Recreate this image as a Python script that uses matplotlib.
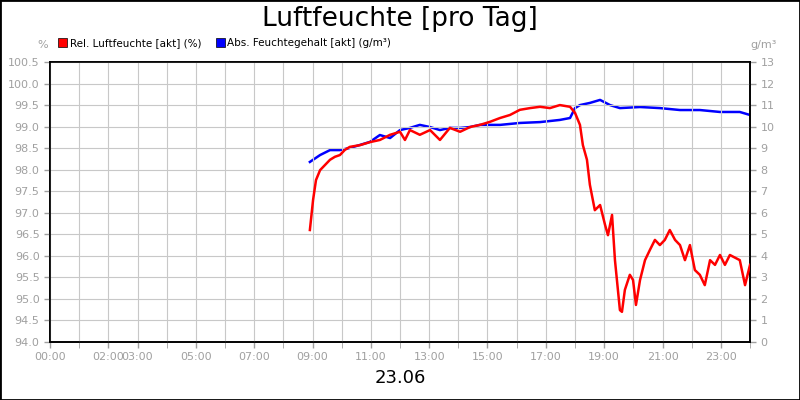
import matplotlib
matplotlib.use("Agg")
import matplotlib.pyplot as plt
from matplotlib.patches import Rectangle

# Rel. Luftfeuchte (%), hours of day
rel_h = [8.91, 9.02, 9.12, 9.26, 9.43, 9.60, 9.77, 9.94, 10.11, 10.28, 10.63, 10.97, 11.31, 11.66,
         12.0, 12.17, 12.34, 12.68, 13.03, 13.37, 13.71, 14.06, 14.40, 14.74, 15.08, 15.43, 15.77,
         16.11, 16.46, 16.80, 17.14, 17.48, 17.83, 18.0, 18.17, 18.27, 18.41, 18.51, 18.68, 18.86,
         19.03, 19.13, 19.27, 19.37, 19.54, 19.61, 19.71, 19.88, 19.99, 20.09, 20.23, 20.40, 20.57,
         20.74, 20.91, 21.08, 21.25, 21.43, 21.60, 21.77, 21.94, 22.11, 22.28, 22.45, 22.63, 22.80,
         22.97, 23.14, 23.31, 23.65, 23.83, 24.0]
rel_v = [96.60, 97.30, 97.76, 97.99, 98.11, 98.23, 98.30, 98.34, 98.46, 98.53, 98.57, 98.64, 98.69, 98.81,
         98.88, 98.69, 98.92, 98.81, 98.92, 98.69, 98.97, 98.88, 98.99, 99.04, 99.11, 99.20, 99.27,
         99.39, 99.43, 99.46, 99.43, 99.50, 99.46, 99.32, 99.04, 98.57, 98.23, 97.65, 97.06, 97.18,
         96.72, 96.48, 96.95, 95.90, 94.74, 94.70, 95.21, 95.56, 95.44, 94.86, 95.44, 95.90, 96.14,
         96.37, 96.25, 96.37, 96.60, 96.37, 96.25, 95.90, 96.25, 95.67, 95.56, 95.32, 95.90, 95.79,
         96.02, 95.79, 96.02, 95.90, 95.32, 95.79]

# Abs. Feuchtegehalt (g/m³)
abs_h = [8.91, 9.26, 9.60, 9.94, 10.28, 10.63, 10.97, 11.31, 11.66, 12.0, 12.34, 12.68, 13.03, 13.37,
         13.71, 14.06, 14.40, 14.74, 15.08, 15.43, 16.11, 16.80, 17.48, 17.83, 18.0, 18.17, 18.51,
         18.86, 19.20, 19.54, 20.23, 20.91, 21.60, 22.28, 22.97, 23.65, 24.0]
abs_v = [8.36, 8.68, 8.91, 8.91, 9.01, 9.15, 9.29, 9.61, 9.47, 9.84, 9.94, 10.08, 9.98, 9.84,
         9.94, 9.94, 9.98, 10.08, 10.08, 10.08, 10.17, 10.21, 10.31, 10.40, 10.86, 11.0, 11.10,
         11.24, 11.0, 10.86, 10.91, 10.86, 10.77, 10.77, 10.68, 10.68, 10.54]

tick_h = [0, 2, 3, 5, 7, 9, 11, 13, 15, 17, 19, 21, 23]
tick_lbl = ["%02d:00" % h for h in tick_h]

fig = plt.figure(figsize=(8, 4), dpi=100)
fig.patches.append(Rectangle((0, 0), 1, 1, transform=fig.transFigure, fill=False,
                             edgecolor="black", linewidth=2))
ax = fig.add_axes([0.0625, 0.145, 0.875, 0.7])
ax2 = ax.twinx()

gc = "#c8c8c8"
ax.set_xlim(0, 24)
ax.set_ylim(94.0, 100.5)
ax2.set_ylim(0, 13)
ax.set_xticks(range(25), minor=True)
ax.set_xticks(tick_h)
ax.set_xticklabels(tick_lbl)
ax.set_yticks([94 + 0.5 * i for i in range(14)])
ax.set_yticklabels(["%.1f" % (94 + 0.5 * i) for i in range(14)])
ax2.set_yticks(range(14))
ax.grid(True, which="both", axis="x", color=gc, linewidth=0.8)
ax.grid(True, axis="y", color=gc, linewidth=0.8)
for a in (ax, ax2):
    a.tick_params(colors="#a0a0a0", labelsize=8, length=4, width=1)
    a.tick_params(which="minor", colors="#a0a0a0", length=4)
    for s in a.spines.values():
        s.set_color("black")
        s.set_linewidth(1.2)

ax.plot(rel_h, rel_v, color="#ff0000", linewidth=1.8, zorder=3)
ax2.plot(abs_h, abs_v, color="#0000ff", linewidth=1.8, zorder=2)
ax.set_zorder(ax2.get_zorder() + 1)
ax.patch.set_visible(False)

fig.text(0.5, 0.952, "Luftfeuchte [pro Tag]", ha="center", va="center", fontsize=19)
fig.text(0.5, 0.055, "23.06", ha="center", va="center", fontsize=13)
fig.text(0.053, 0.88, "%", ha="center", color="#a0a0a0", fontsize=8)
fig.text(0.955, 0.88, "g/m³", ha="center", color="#a0a0a0", fontsize=8)

fig.patches.append(Rectangle((0.073, 0.883), 0.011, 0.022, transform=fig.transFigure,
                             facecolor="#ff0000", edgecolor="black", linewidth=0.5))
fig.text(0.087, 0.885, "Rel. Luftfeuchte [akt] (%)", fontsize=7.5)
fig.patches.append(Rectangle((0.27, 0.883), 0.011, 0.022, transform=fig.transFigure,
                             facecolor="#0000ff", edgecolor="black", linewidth=0.5))
fig.text(0.284, 0.885, "Abs. Feuchtegehalt [akt] (g/m³)", fontsize=7.5)

fig.savefig("out.png", dpi=100)
